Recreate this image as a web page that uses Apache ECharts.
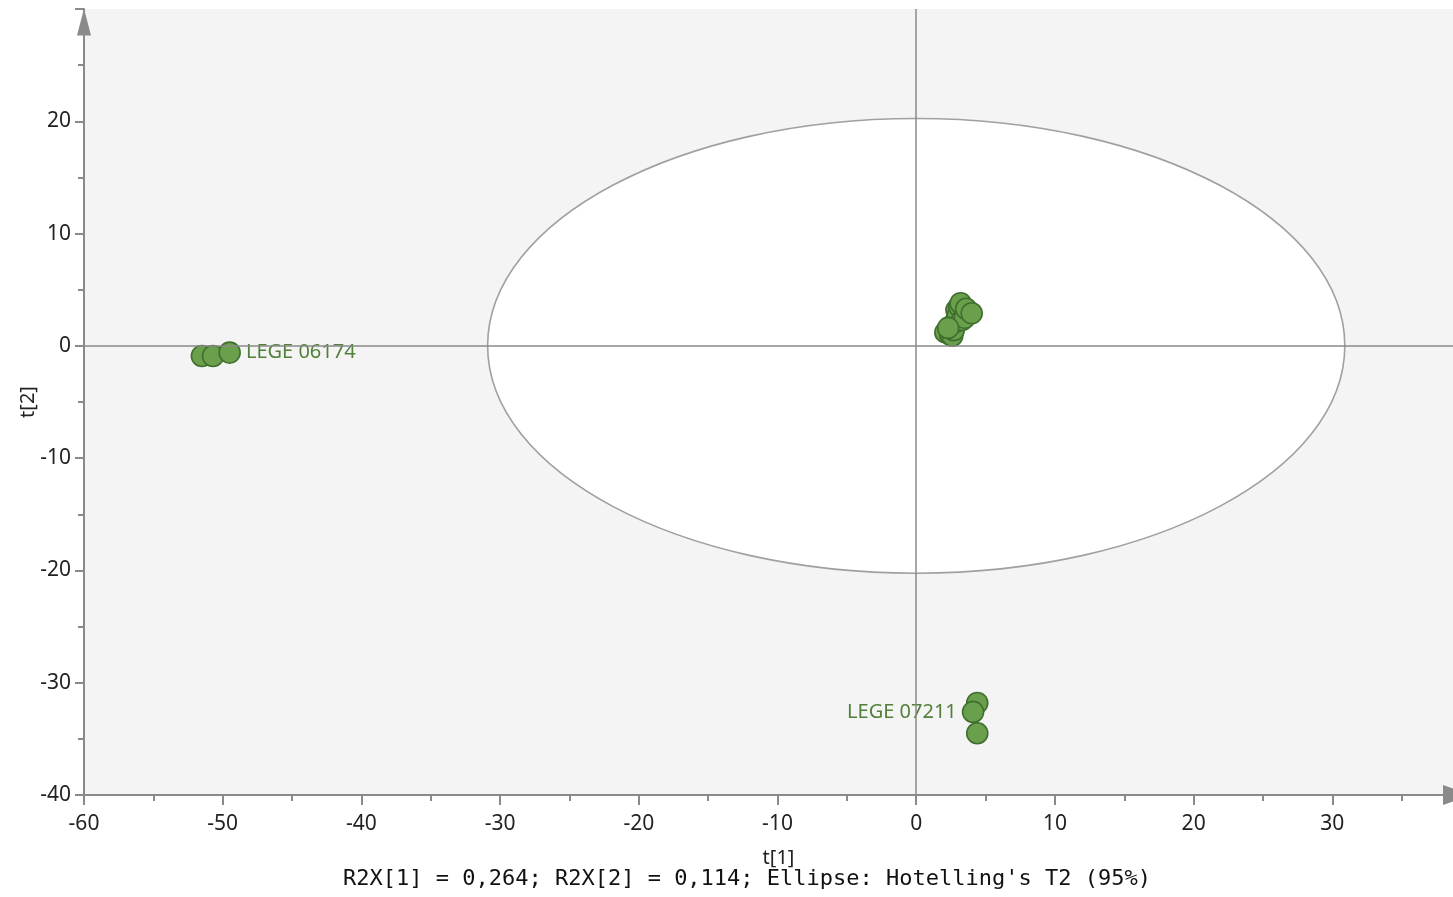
<!DOCTYPE html>
<html>
<head>
<meta charset="utf-8">
<script src="https://cdn.jsdelivr.net/npm/echarts@6/dist/echarts.min.js"></script>
<style>
html,body{margin:0;padding:0;background:#fff;}
#chart{width:1453px;height:897px;}
</style>
</head>
<body>
<div id="chart"></div>
<script>
// ---- data ----
const t1 = [-51.5, -50.7, -49.5,
  2.1, 2.45, 2.6, 2.7, 2.8, 2.9, 3.0, 3.1, 3.2, 3.3, 3.5, 3.6, 2.3, 4.0,
  4.4, 4.1, 4.4];
const t2 = [-0.9, -0.9, -0.6,
  1.2, 1.0, 0.9, 1.4, 2.1, 3.2, 2.7, 3.5, 3.8, 2.3, 2.5, 3.3, 1.6, 2.9,
  -31.8, -32.6, -34.5];
const pointLabels = ['', '', 'LEGE 06174',
  '', '', '', '', '', '', '', '', '', '', '', '', '', '',
  '', 'LEGE 07211', ''];
// Hotelling's T2 ellipse: centre t1, centre t2, semi-axis t1, semi-axis t2
const ellipse = [0, 0, 30.9, 20.25];
const xTicks = {min: -60, max: 38.7, major: 10, minor: 5};
const yTicks = {min: -40, max: 30, major: 10};
const xName = 't[1]';
const yName = 't[2]';
const footnote = "R2X[1] = 0,264; R2X[2] = 0,114; Ellipse: Hotelling's T2 (95%)";

// ---- chart ----
const axisColor = '#8a8a8a';
const labelFont = 'Noto Sans';
const chart = echarts.init(document.getElementById('chart'));

const scatterData = t1.map((x, i) => {
  const item = {value: [x, t2[i]], name: pointLabels[i]};
  if (pointLabels[i]) {
    item.label = {show: true, position: x < 0 ? 'right' : 'left'};
  }
  return item;
});

const option = {
  animation: false,
  title: {
    text: footnote,
    left: 338, top: 863,
    textStyle: {fontFamily: 'DejaVu Sans Mono', fontSize: 22, fontWeight: 'normal', color: '#111'}
  },
  grid: {left: 84, right: 0, top: 9, bottom: 102, show: true, backgroundColor: '#f4f4f4', borderWidth: 0},
  xAxis: [{
    type: 'value', min: xTicks.min, max: xTicks.max, interval: xTicks.major,
    name: xName, nameLocation: 'middle', nameGap: 53, nameMoveOverlap: false,
    nameTextStyle: {fontFamily: labelFont, fontSize: 20, color: '#222', padding: [0, 0, 0, 20]},
    axisLine: {show: true, onZero: false, lineStyle: {color: axisColor, width: 2},
      symbol: ['none', 'triangle'], symbolSize: [20, 28], symbolOffset: [0, 4]},
    axisTick: {show: true, length: 10, lineStyle: {color: axisColor, width: 2}},
    axisLabel: {margin: 19, fontFamily: labelFont, fontSize: 21, color: '#222', showMaxLabel: false,
      formatter: v => (v % 10 === 0 ? String(v) : '')},
    splitLine: {show: false}
  }, {
    type: 'value', min: xTicks.min, max: xTicks.max, interval: xTicks.minor, position: 'bottom',
    axisLine: {show: false, onZero: false},
    axisTick: {show: true, length: 6, lineStyle: {color: axisColor, width: 2}},
    axisLabel: {show: false},
    splitLine: {show: false}
  }],
  yAxis: {
    type: 'value', min: yTicks.min, max: yTicks.max, interval: yTicks.major,
    name: yName, nameLocation: 'middle', nameGap: 46, nameMoveOverlap: false,
    nameTextStyle: {fontFamily: labelFont, fontSize: 20, color: '#222'},
    axisLine: {show: true, onZero: false, lineStyle: {color: axisColor, width: 2},
      symbol: ['none', 'triangle'], symbolSize: [14, 27], symbolOffset: [0, -13]},
    axisTick: {show: true, length: 9, lineStyle: {color: axisColor, width: 2}},
    minorTick: {show: true, splitNumber: 2, length: 6, lineStyle: {color: axisColor, width: 2}},
    axisLabel: {margin: 13, fontFamily: labelFont, fontSize: 21, color: '#222', showMaxLabel: false},
    splitLine: {show: false}
  },
  series: [{
    type: 'custom', z: 2, silent: true, clip: false,
    data: [ellipse],
    encode: {x: 0, y: 1},
    renderItem: function (params, api) {
      const c = api.coord([api.value(0), api.value(1)]);
      const rx = api.size([api.value(2), 0])[0];
      const ry = api.size([0, api.value(3)])[1];
      return {type: 'ellipse', shape: {cx: c[0], cy: c[1], rx: rx, ry: ry},
        style: {fill: '#ffffff', stroke: '#a0a0a0', lineWidth: 1.6}};
    }
  }, {
    type: 'line', z: 3, data: [], silent: true,
    markLine: {silent: true, symbol: 'none', label: {show: false},
      lineStyle: {color: '#8a8a8a', width: 1.5, type: 'solid'},
      data: [{xAxis: 0}, {yAxis: 0}]}
  }, {
    type: 'scatter', z: 4, symbolSize: 21,
    itemStyle: {color: '#6aa04c', borderColor: '#3f6f2e', borderWidth: 1.6, opacity: 1},
    label: {show: false, formatter: '{b}', distance: 5, fontFamily: labelFont, fontSize: 20, color: '#52803b'},
    data: scatterData
  }]
};
chart.setOption(option);
</script>
</body>
</html>
